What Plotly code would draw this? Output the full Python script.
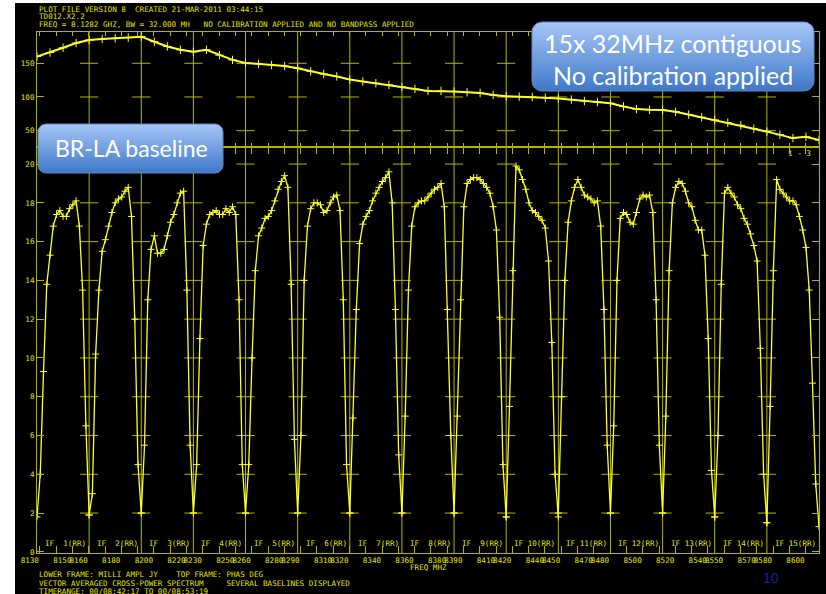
import numpy as np
import plotly.graph_objects as go

# ---------------- data ----------------
FREQ0 = 8128.2          # MHz, start of IF 1
IF_BW = 32.0            # MHz per IF
N_IF = 15
chan_offsets = [0, 2, 4, 6, 8, 10, 12, 14, 16, 18, 20, 22, 24, 26, 28, 30, 32]  # MHz inside an IF

amp_if1 = [1.8, 4.0, 9.3, 13.8, 15.3, 16.8, 17.4, 17.6, 17.3, 17.3, 17.7, 17.9, 18.1, 16.8, 13.5, 6.5, 1.9]
amp_if2 = [1.9, 3.0, 10.2, 13.5, 15.5, 16.1, 16.8, 17.5, 18.0, 18.2, 18.3, 18.6, 18.8, 17.3, 12.0, 4.5, 2.0]
amp_if3 = [2.0, 5.5, 13.0, 15.6, 16.3, 15.4, 15.4, 15.6, 16.3, 17.0, 17.4, 18.0, 18.5, 18.6, 13.5, 5.5, 2.0]
amp_if4 = [2.0, 4.5, 11.0, 15.8, 16.9, 17.4, 17.5, 17.6, 17.4, 17.4, 17.7, 17.5, 17.8, 17.4, 13.0, 4.5, 2.0]
amp_if5 = [2.0, 4.5, 10.0, 14.5, 16.3, 16.7, 17.2, 17.3, 17.6, 18.1, 18.7, 19.1, 19.4, 18.8, 13.8, 5.8, 2.0]
amp_if6 = [2.0, 6.0, 14.0, 16.8, 17.7, 18.0, 18.0, 17.9, 17.5, 17.6, 18.0, 18.3, 18.4, 17.6, 13.0, 4.5, 2.0]
amp_if7 = [2.0, 6.9, 12.5, 15.9, 16.9, 17.3, 17.6, 18.1, 18.5, 18.8, 19.1, 19.3, 19.6, 18.0, 12.5, 5.0, 2.0]
amp_if8 = [2.0, 7.0, 13.5, 16.8, 17.8, 18.0, 18.1, 18.1, 18.3, 18.5, 18.7, 18.8, 19.0, 17.8, 12.5, 6.0, 2.0]
amp_if9 = [2.0, 7.0, 13.0, 17.8, 19.0, 19.2, 19.3, 19.3, 19.2, 19.0, 18.8, 18.5, 17.8, 16.6, 12.1, 4.5, 1.8]
amp_if10 = [1.8, 7.5, 14.5, 19.9, 19.7, 19.2, 18.7, 18.0, 17.6, 17.5, 17.3, 17.1, 16.7, 15.0, 10.8, 4.0, 1.8]
amp_if11 = [2.0, 8.0, 14.0, 17.0, 18.1, 18.8, 19.2, 18.8, 18.4, 18.3, 18.2, 18.0, 18.1, 16.8, 12.5, 5.5, 2.0]
amp_if12 = [2.0, 6.5, 14.0, 17.2, 17.5, 17.4, 17.0, 16.9, 17.5, 18.2, 18.4, 18.3, 18.4, 17.5, 13.0, 5.5, 2.0]
amp_if13 = [2.0, 7.0, 14.5, 18.0, 18.8, 19.1, 19.0, 18.6, 18.0, 17.8, 17.1, 16.6, 16.6, 15.3, 11.0, 4.2, 1.8]
amp_if14 = [1.8, 6.0, 13.8, 18.5, 18.8, 18.5, 18.3, 17.9, 17.7, 17.2, 16.9, 16.4, 15.8, 15.0, 10.5, 4.0, 1.5]
amp_if15 = [1.5, 7.5, 14.5, 19.2, 18.7, 18.5, 18.3, 18.1, 18.1, 17.9, 17.3, 16.6, 15.7, 13.5, 8.7, 3.5, 1.3]
amp_ifs = [amp_if1, amp_if2, amp_if3, amp_if4, amp_if5, amp_if6, amp_if7, amp_if8,
           amp_if9, amp_if10, amp_if11, amp_if12, amp_if13, amp_if14, amp_if15]

# phase (deg), sampled every 8 MHz from FREQ0
phase_step = 8.0
phase_deg = [160, 166, 173, 180, 184.5, 186, 187, 188, 189.5, 182,
             175, 170, 167, 170, 162, 155, 150.5, 149, 147.5, 146,
             142.6, 138, 134, 130.5, 126, 123, 120.5, 118, 115, 112,
             109, 109, 108, 107, 106, 103, 101, 100.5, 100, 99,
             97.8, 96, 94, 92.5, 90.7, 86, 82, 81, 80.8, 78,
             74, 70, 66, 62, 58, 53, 48.6, 44, 39, 41, 36]

x_tick_vals = list(range(8130, 8601, 10))
x_labeled = [8130, 8150, 8160, 8180, 8200, 8220, 8230, 8250, 8260, 8280, 8290, 8310, 8320,
             8340, 8360, 8380, 8390, 8410, 8420, 8440, 8450, 8470, 8480, 8500, 8520,
             8540, 8550, 8570, 8580, 8600]
amp_ticks = [0, 2, 4, 6, 8, 10, 12, 14, 16, 18, 20]
phase_ticks = [50, 100, 150]

header_lines = ["PLOT FILE VERSION 8  CREATED 21-MAR-2011 03:44:15",
                "TD012.X2.2",
                "FREQ = 8.1282 GHZ, BW = 32.000 MH   NO CALIBRATION APPLIED AND NO BANDPASS APPLIED"]
footer_lines = ["LOWER FRAME: MILLI AMPL JY    TOP FRAME: PHAS DEG",
                "VECTOR AVERAGED CROSS-POWER SPECTRUM     SEVERAL BASELINES DISPLAYED",
                "TIMERANGE: 00/08:42:17 TO 00/08:53:19"]

# ---------------- styling ----------------
W, H = 826, 594
PL, PR, PT, PB, PMID = 37, 819, 32, 553, 147
AX = "#b4b400"
DATA = "#ffff28"
TXT = "#e4e400"
MONO = "DejaVu Sans Mono"
FS = 7.6

amp_x, amp_y = [], []
for i, vals in enumerate(amp_ifs):
    base = FREQ0 + i * IF_BW
    amp_x += [base + o for o in chan_offsets]
    amp_y += vals
phase_x = [FREQ0 + k * phase_step for k in range(len(phase_deg))]
if_edges = [FREQ0 + i * IF_BW for i in range(N_IF + 1)]
inner = if_edges[1:-1]

fig = go.Figure()

# cross ticks on IF boundaries
cx, cy = [], []
for e in inner:
    for t in amp_ticks[1:]:
        cx.append(e); cy.append(t)
fig.add_trace(go.Scatter(x=cx, y=cy, mode="markers", xaxis="x", yaxis="y",
                         marker=dict(symbol="line-ew", size=13, line=dict(color=AX, width=1)),
                         hoverinfo="skip", showlegend=False))
cx2, cy2 = [], []
for e in inner:
    for t in phase_ticks:
        cx2.append(e); cy2.append(t)
fig.add_trace(go.Scatter(x=cx2, y=cy2, mode="markers", xaxis="x2", yaxis="y2",
                         marker=dict(symbol="line-ew", size=13, line=dict(color=AX, width=1)),
                         hoverinfo="skip", showlegend=False))

fig.add_trace(go.Scatter(x=amp_x, y=amp_y, mode="lines+markers", xaxis="x", yaxis="y",
                         line=dict(color=DATA, width=1.3),
                         marker=dict(symbol="cross-thin", size=5, line=dict(color=DATA, width=1)),
                         hoverinfo="skip", showlegend=False))
fig.add_trace(go.Scatter(x=phase_x, y=phase_deg, mode="lines+markers", xaxis="x2", yaxis="y2",
                         line=dict(color=DATA, width=2),
                         marker=dict(symbol="cross-thin", size=6, line=dict(color=DATA, width=1)),
                         hoverinfo="skip", showlegend=False))


def rounded_rect(x0, ytop, x1, ybot, r, n=8):
    y0, y1 = H - ybot, H - ytop
    xs, ys = [], []
    corners = [(x1 - r, y1 - r, 0, 90), (x0 + r, y1 - r, 90, 180),
               (x0 + r, y0 + r, 180, 270), (x1 - r, y0 + r, 270, 360)]
    for ccx, ccy, a0, a1 in corners:
        for t in np.linspace(np.radians(a0), np.radians(a1), n):
            xs.append(ccx + r * np.cos(t)); ys.append(ccy + r * np.sin(t))
    xs.append(xs[0]); ys.append(ys[0])
    return xs, ys


for (bx0, by0, bx1, by1, br) in [(38, 124, 223, 173, 8), (532, 22, 814, 91, 10)]:
    xs, ys = rounded_rect(bx0, by0, bx1, by1, br)
    fig.add_trace(go.Scatter(x=xs, y=ys, mode="lines", fill="toself", xaxis="x3", yaxis="y3",
                             fillgradient=dict(type="vertical",
                                               colorscale=[[0, "#3f78c8"], [1, "#a6c6f7"]]),
                             line=dict(color="#5b88c8", width=1),
                             hoverinfo="skip", showlegend=False))

ax_common = dict(showline=True, linecolor=AX, linewidth=1, mirror="ticks", ticks="inside",
                 tickcolor=AX, showgrid=False, zeroline=False, automargin=False,
                 tickfont=dict(family=MONO, size=FS, color=TXT))

shapes = []
for e in inner:
    shapes.append(dict(type="line", xref="x", yref="paper", x0=e, x1=e,
                       y0=1 - PB / H, y1=1 - PT / H, line=dict(color=AX, width=1), layer="below"))
shapes.append(dict(type="rect", xref="paper", yref="paper", x0=0, x1=15 / W, y0=0, y1=1,
                   fillcolor="white", line=dict(width=0), layer="above"))
shapes.append(dict(type="rect", xref="paper", yref="paper", x0=0, x1=1, y0=1 - 3 / H, y1=1,
                   fillcolor="white", line=dict(width=0), layer="above"))

ann = []
for j, s in enumerate(header_lines):
    ann.append(dict(text=s, xref="paper", yref="paper", x=PL / W, y=1 - [9.3, 16.7, 25][j] / H,
                    xanchor="left", yanchor="middle", showarrow=False,
                    font=dict(family=MONO, size=FS, color=TXT)))
for j, s in enumerate(footer_lines):
    ann.append(dict(text=s, xref="paper", yref="paper", x=PL / W, y=1 - [574.5, 583, 591][j] / H,
                    xanchor="left", yanchor="middle", showarrow=False,
                    font=dict(family=MONO, size=FS, color=TXT)))
ann.append(dict(text="FREQ MHZ", xref="paper", yref="paper", x=(PL + PR) / 2 / W, y=1 - 567 / H,
                xanchor="center", yanchor="middle", showarrow=False,
                font=dict(family=MONO, size=FS, color=TXT)))
for i in range(N_IF):
    ann.append(dict(text="IF%3d(RR)" % (i + 1), xref="x", yref="paper", x=if_edges[i], xshift=6,
                    y=1 - 543 / H, xanchor="left", yanchor="middle", showarrow=False,
                    font=dict(family=MONO, size=FS, color=TXT)))
ann.append(dict(text="1 - 3", xref="paper", yref="paper", x=813 / W, y=1 - 153 / H,
                xanchor="right", yanchor="middle", showarrow=False,
                font=dict(family=MONO, size=FS, color=TXT)))
ann.append(dict(text="10", xref="paper", yref="paper", x=771 / W, y=1 - 578 / H,
                xanchor="center", yanchor="middle", showarrow=False,
                font=dict(family="Liberation Sans", size=14, color="#1c1ca8")))
ann.append(dict(text="BR-LA baseline", xref="paper", yref="paper", x=131 / W, y=1 - 148 / H,
                xanchor="center", yanchor="middle", showarrow=False,
                font=dict(family="Lato", size=23, color="white")))
ann.append(dict(text="15x 32MHz contiguous", xref="paper", yref="paper", x=673 / W, y=1 - 43 / H,
                xanchor="center", yanchor="middle", showarrow=False,
                font=dict(family="Lato", size=25, color="white")))
ann.append(dict(text="No calibration applied", xref="paper", yref="paper", x=673 / W, y=1 - 75 / H,
                xanchor="center", yanchor="middle", showarrow=False,
                font=dict(family="Lato", size=25, color="white")))

fig.update_layout(
    width=W, height=H, margin=dict(l=0, r=0, t=0, b=0, autoexpand=False),
    paper_bgcolor="black", plot_bgcolor="rgba(0,0,0,0)", showlegend=False,
    xaxis=dict(domain=[PL / W, PR / W], range=[FREQ0, FREQ0 + N_IF * IF_BW], anchor="y",
               tickvals=x_tick_vals,
               ticktext=[str(v) if v in x_labeled else "" for v in x_tick_vals],
               ticklen=7, tickangle=0, ticklabelposition="outside left", **ax_common),
    xaxis2=dict(domain=[PL / W, PR / W], matches="x", anchor="y2", tickvals=x_tick_vals,
                showticklabels=False, ticklen=4, **ax_common),
    yaxis=dict(domain=[1 - PB / H, 1 - PMID / H], range=[-0.06, 20.88], anchor="x",
               tickvals=amp_ticks, ticklen=7, **ax_common),
    yaxis2=dict(domain=[1 - PMID / H, 1 - PT / H], range=[25.8, 196.4], anchor="x2",
                tickvals=phase_ticks, ticklen=7, **ax_common),
    xaxis3=dict(domain=[0, 1], range=[0, W], anchor="y3", visible=False, automargin=False),
    yaxis3=dict(domain=[0, 1], range=[0, H], anchor="x3", visible=False, automargin=False),
    shapes=shapes, annotations=ann,
)

fig.write_html("out.html", config={"displayModeBar": False},
               post_script="document.body.style.margin='0px';")
